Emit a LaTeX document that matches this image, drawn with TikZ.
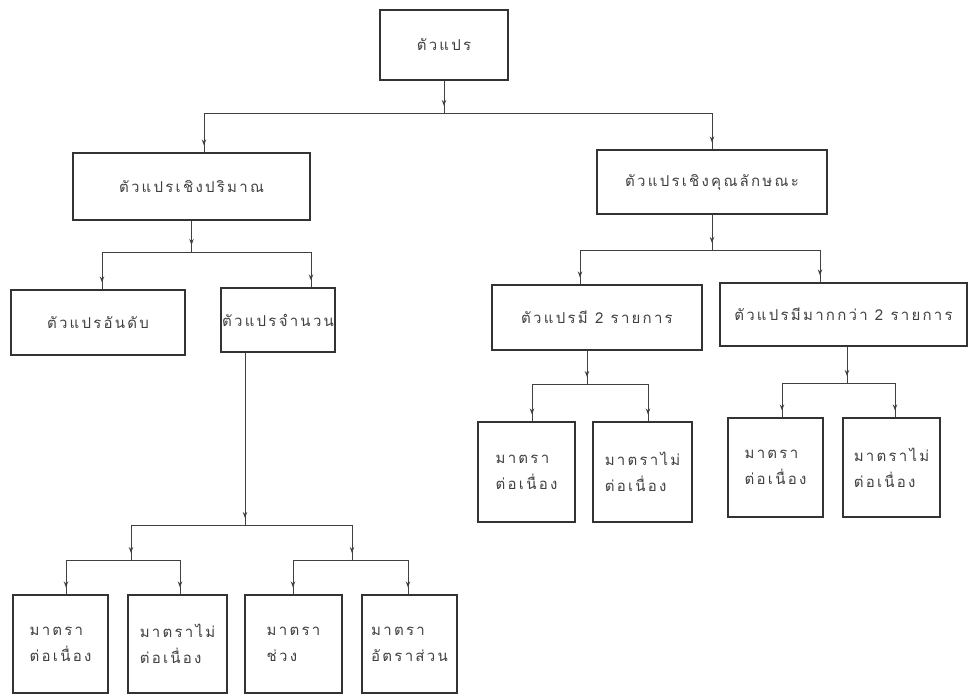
\documentclass[tikz,border=0pt]{standalone}
\usepackage{fontspec}
\newfontfamily\thaifont[Script=Thai,LetterSpace=15]{Loma}
\usetikzlibrary{arrows.meta,decorations.markings}
\tikzset{
  box/.style={draw=black!80, line width=1.1pt, inner sep=0pt, align=left,
    font=\thaifont\fontsize{15}{26}\selectfont, text=black!75},
  twoline/.style={box, text depth=8pt},
  ln/.style={draw=black!75, line width=1pt},
  arr/.style={ln, postaction={decorate}, decoration={markings,
    mark=at position -7pt with {\arrow{Stealth[length=6pt,width=4.5pt]}}}}
}
\begin{document}
\begin{tikzpicture}[x=1pt,y=-1pt]
\path[use as bounding box] (0,0) rectangle (969,696);
% nodes
\node[box, minimum width=128pt, minimum height=70pt] (top) at (444,45) {ตัวแปร};
\node[box, minimum width=237pt, minimum height=67pt] (quant) at (191.5,186.5) {ตัวแปรเชิงปริมาณ};
\node[box, minimum width=230pt, minimum height=64pt] (qual) at (712,182) {ตัวแปรเชิงคุณลักษณะ};
\node[box, minimum width=174pt, minimum height=65pt] (ord) at (98,322.5) {ตัวแปรอันดับ};
\node[box, minimum width=114pt, minimum height=64pt] (cnt) at (278,320) {ตัวแปรจำนวน};
\node[box, minimum width=210pt, minimum height=65pt] (two) at (597,317.5) {ตัวแปรมี 2 รายการ};
\node[box, minimum width=247pt, minimum height=63pt] (more) at (843.5,314.5) {ตัวแปรมีมากกว่า 2 รายการ};
\node[box, minimum width=97pt, minimum height=100pt] (c1) at (526.5,472) {มาตรา\\ต่อเนื่อง};
\node[box, minimum width=99pt, minimum height=100pt] (c2) at (642.5,472) {มาตราไม่\\ต่อเนื่อง};
\node[box, minimum width=95pt, minimum height=99pt] (c3) at (775.5,467.5) {มาตรา\\ต่อเนื่อง};
\node[box, minimum width=97pt, minimum height=99pt] (c4) at (891.5,467.5) {มาตราไม่\\ต่อเนื่อง};
\node[box, minimum width=95pt, minimum height=98pt] (b1) at (60.5,644) {มาตรา\\ต่อเนื่อง};
\node[box, minimum width=99pt, minimum height=98pt] (b2) at (177.5,644) {มาตราไม่\\ต่อเนื่อง};
\node[box, minimum width=97pt, minimum height=98pt] (b3) at (293.5,644) {มาตรา\\ช่วง};
\node[box, minimum width=95pt, minimum height=98pt] (b4) at (409.5,644) {มาตรา\\อัตราส่วน};
% bus coordinates
\coordinate (a1) at (204,113);
\coordinate (a2) at (712,113);
\coordinate (q1) at (102,252);
\coordinate (q2) at (311,252);
\coordinate (k1) at (580,250);
\coordinate (k2) at (820,250);
\coordinate (t0) at (587,384);
\coordinate (t1) at (532,384);
\coordinate (t2) at (648,384);
\coordinate (m0) at (847,383);
\coordinate (m1) at (782,383);
\coordinate (m2) at (895,383);
\coordinate (n0) at (245,525);
\coordinate (n1) at (131,525);
\coordinate (n2) at (352,525);
\coordinate (l1) at (66,560);
\coordinate (l2) at (180,560);
\coordinate (r1) at (293,560);
\coordinate (r2) at (408,560);
% connectors
\draw[arr] (top.south) -- (top.south |- a1);
\draw[ln] (a1) -- (a2);
\draw[arr] (a1) -- (a1 |- quant.north);
\draw[arr] (a2) -- (a2 |- qual.north);
\draw[arr] (quant.south) -- (quant.south |- q1);
\draw[ln] (q1) -- (q2);
\draw[arr] (q1) -- (q1 |- ord.north);
\draw[arr] (q2) -- (q2 |- cnt.north);
\draw[arr] (qual.south) -- (qual.south |- k1);
\draw[ln] (k1) -- (k2);
\draw[arr] (k1) -- (k1 |- two.north);
\draw[arr] (k2) -- (k2 |- more.north);
\draw[arr] (t0 |- two.south) -- (t0);
\draw[ln] (t1) -- (t2);
\draw[arr] (t1) -- (t1 |- c1.north);
\draw[arr] (t2) -- (t2 |- c2.north);
\draw[arr] (m0 |- more.south) -- (m0);
\draw[ln] (m1) -- (m2);
\draw[arr] (m1) -- (m1 |- c3.north);
\draw[arr] (m2) -- (m2 |- c4.north);
\draw[arr] (n0 |- cnt.south) -- (n0);
\draw[ln] (n1) -- (n2);
\draw[arr] (n1) -- (n1 |- l1);
\draw[arr] (n2) -- (n2 |- r1);
\draw[ln] (l1) -- (l2);
\draw[ln] (r1) -- (r2);
\draw[arr] (l1) -- (l1 |- b1.north);
\draw[arr] (l2) -- (l2 |- b2.north);
\draw[arr] (r1) -- (r1 |- b3.north);
\draw[arr] (r2) -- (r2 |- b4.north);
\end{tikzpicture}
\end{document}
